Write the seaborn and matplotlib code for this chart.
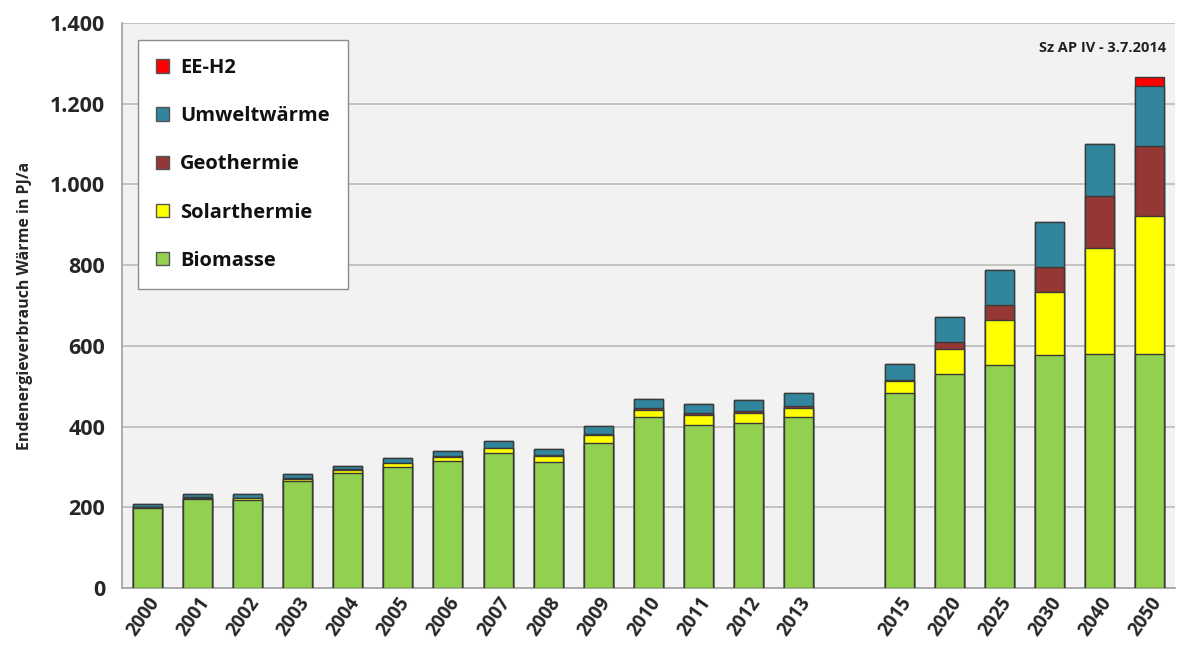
import matplotlib
matplotlib.use("Agg")
import matplotlib.pyplot as plt
import matplotlib.patches as mpatches
from matplotlib.ticker import FuncFormatter, FixedLocator
import numpy as np
import pandas as pd
import seaborn as sns

# Kategorien (leerer Platz zwischen 2013 und 2015)
years = ["2000", "2001", "2002", "2003", "2004", "2005", "2006", "2007", "2008",
         "2009", "2010", "2011", "2012", "2013", "2015", "2020", "2025", "2030",
         "2040", "2050"]
order = years[:14] + [" "] + years[14:]

# Werte in PJ/a
biomasse = [197, 220, 217, 265, 285, 300, 315, 335, 313, 360, 423, 405, 408, 423,
            482, 530, 552, 577, 580, 580]
solarthermie = [3, 4, 5, 6, 7, 9, 10, 12, 13, 18, 18, 23, 25, 24,
                31, 63, 112, 157, 262, 342]
geothermie = [1, 1, 1, 1, 2, 1, 1, 1, 3, 4, 5, 5, 6, 5,
              2, 16, 37, 62, 129, 174]
umweltwaerme = [7, 9, 9, 10, 9, 12, 13, 17, 16, 20, 23, 24, 27, 30,
                40, 62, 87, 111, 129, 147]
ee_h2 = [0, 0, 0, 0, 0, 0, 0, 0, 0, 0, 0, 0, 0, 0,
         0, 0, 0, 0, 0, 24]

series = ["Biomasse", "Solarthermie", "Geothermie", "Umweltwärme", "EE-H2"]
colors = ["#92D050", "#FFFF00", "#953735", "#31859C", "#FF0000"]

df = pd.DataFrame({"Jahr": years, "Biomasse": biomasse, "Solarthermie": solarthermie,
                   "Geothermie": geothermie, "Umweltwärme": umweltwaerme, "EE-H2": ee_h2})
cum = df[series].cumsum(axis=1)
cum["Jahr"] = df["Jahr"]

sns.set_theme(style="white")
plt.rcParams["font.family"] = ["Open Sans", "DejaVu Sans"]

fig = plt.figure(figsize=(11.82, 6.55), dpi=100)
ax = fig.add_axes([0.1032, 0.1023, 0.8909, 0.8626])
ax.set_facecolor("#F2F2F2")

# gestapelt: von oben nach unten übereinander zeichnen
for name, col in reversed(list(zip(series, colors))):
    sns.barplot(data=cum, x="Jahr", y=name, order=order, color=col, saturation=1,
                width=0.58, edgecolor="#3A3A3A", linewidth=1.0, ax=ax, zorder=3)

ax.set_ylim(0, 1400)
ax.set_xlim(-0.5, len(order) - 0.5)
ax.yaxis.set_major_locator(FixedLocator(np.arange(0, 1401, 200)))
ax.yaxis.set_major_formatter(FuncFormatter(lambda v, p: f"{int(v):,}".replace(",", ".")))
ax.grid(axis="y", color="#BFBFBF", linewidth=1.3, zorder=0)
ax.set_axisbelow(True)

for s in ["top", "right"]:
    ax.spines[s].set_visible(False)
for s in ["left", "bottom"]:
    ax.spines[s].set_color("#A6A6A6")
    ax.spines[s].set_linewidth(1.3)

ax.tick_params(axis="y", which="major", direction="out", length=6, color="#A6A6A6",
               labelsize=15.5, pad=6)
ax.tick_params(axis="x", which="major", length=0, labelsize=13.5, pad=4)
ax.set_xticks(np.arange(-0.5, len(order), 1.0), minor=True)
ax.tick_params(axis="x", which="minor", direction="out", length=6, color="#A6A6A6")
for lab in ax.get_yticklabels():
    lab.set_fontweight("bold")
for lab in ax.get_xticklabels():
    lab.set_fontweight("bold")
    lab.set_rotation(55)
    lab.set_ha("right")
    lab.set_rotation_mode("anchor")

ax.set_xlabel("")
ax.set_ylabel("Endenergieverbrauch Wärme in PJ/a", fontsize=11.5, fontweight="bold",
              labelpad=12)

ax.text(0.992, 0.955, "Sz AP IV - 3.7.2014", transform=ax.transAxes, ha="right",
        va="center", fontsize=10.5, fontweight="bold", color="#222222")

handles = [mpatches.Patch(facecolor=c, edgecolor="#555555", label=n)
           for n, c in zip(series, colors)][::-1]
leg = ax.legend(handles=handles, loc="upper left", bbox_to_anchor=(0.0152, 0.970),
                frameon=True, fancybox=False, framealpha=1, edgecolor="#8C8C8C",
                prop={"weight": "bold", "size": 14.5}, labelspacing=1.4,
                handlelength=0.65, handleheight=0.65, handletextpad=0.55,
                borderpad=0.9, borderaxespad=0)
leg.get_frame().set_linewidth(1.0)
leg.set_zorder(5)
for t in leg.get_texts():
    t.set_color("#111111")

fig.savefig("out.png", dpi=100, facecolor="white")
